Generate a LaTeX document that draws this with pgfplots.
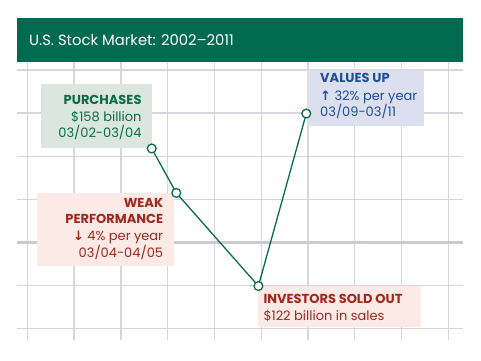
\documentclass[border=0pt]{standalone}
\usepackage{fontspec}
\setmainfont{Poppins}
\newfontfamily\sym{DejaVu Sans}
\usepackage{pgfplots}
\pgfplotsset{compat=1.18}
\definecolor{titlegreen}{HTML}{006B4F}
\definecolor{gridgray}{HTML}{D6D6DC}
\definecolor{gridthick}{HTML}{CBCBD0}
\definecolor{boxgreen}{HTML}{DCE6E1}
\definecolor{boxpink}{HTML}{FCEAE6}
\definecolor{boxblue}{HTML}{DCE0EE}
\definecolor{txtgreen}{HTML}{0B6B4A}
\definecolor{txtred}{HTML}{A3281F}
\definecolor{txtblue}{HTML}{1D4F9B}
\definecolor{linegreen}{HTML}{0A6E4C}
\begin{document}
\begin{tikzpicture}
\fill[white] (0pt,0pt) rectangle (481pt,360pt);
\path[use as bounding box] (0pt,0pt) rectangle (481pt,360pt);
% grid axis
\begin{axis}[at={(17pt,20pt)}, anchor=south west, width=446pt, height=278pt, scale only axis,
  xmin=-0.22, xmax=9.314, ymin=-0.262, ymax=6.186,
  axis line style={draw=none}, tick style={draw=none},
  xtick={0,1,2,3,4,5,6,7,8,9}, ytick={0,1,3,4,5,6},
  xticklabels={}, yticklabels={},
  grid=major, grid style={line width=1.3pt, color=gridgray},
  extra y ticks={2}, extra y tick labels={},
  extra y tick style={grid style={line width=2.6pt, color=gridthick}}]
\addplot[draw=none] coordinates {(0,0)};
\end{axis}
% title bar
\fill[titlegreen] (17pt,298pt) rectangle (463pt,342pt);
\node[anchor=base west, inner sep=0pt, text=white, font=\fontsize{14.8}{17}\selectfont] at (29pt,314.3pt) {U.S. Stock Market: 2002–2011};
% boxes
\fill[boxgreen] (41.3pt,211.7pt) rectangle (151.7pt,276pt);
\fill[boxpink] (36.7pt,94pt) rectangle (174pt,166.7pt);
\fill[boxpink] (257.7pt,32.7pt) rectangle (421pt,74.3pt);
\fill[boxblue] (307.3pt,234pt) rectangle (424pt,290pt);
\begin{scope}[every node/.style={inner sep=0pt, font=\fontsize{13}{15}\selectfont}]
\node[anchor=base east, text=txtgreen] at (141.7pt,255.7pt) {\bfseries PURCHASES};
\node[anchor=base east, text=txtgreen] at (141.7pt,238.3pt) {\$158 billion};
\node[anchor=base east, text=txtgreen] at (141.7pt,222.3pt) {03/02-03/04};
\node[anchor=base east, text=txtred] at (163.3pt,153pt) {\bfseries WEAK};
\node[anchor=base east, text=txtred] at (163.3pt,136.3pt) {\bfseries PERFORMANCE};
\node[anchor=base east, text=txtred] at (163.3pt,119.7pt) {{\sym\bfseries ↓} 4\% per year};
\node[anchor=base east, text=txtred] at (163.3pt,102.3pt) {03/04-04/05};
\node[anchor=base west, text=txtred] at (263.3pt,56.3pt) {\bfseries INVESTORS SOLD OUT};
\node[anchor=base west, text=txtred] at (263.3pt,39.7pt) {\$122 billion in sales};
\node[anchor=base west, text=txtblue] at (320pt,277.3pt) {\bfseries VALUES UP};
\node[anchor=base west, text=txtblue] at (320pt,260pt) {{\sym\bfseries ↑} 32\% per year};
\node[anchor=base west, text=txtblue] at (320pt,243.3pt) {03/09-03/11};
\end{scope}
% data axis
\begin{axis}[at={(17pt,20pt)}, anchor=south west, width=446pt, height=278pt, scale only axis,
  xmin=-0.22, xmax=9.314, ymin=-0.262, ymax=6.186, hide axis, clip=false]
\addplot[color=linegreen, line width=1.3pt, mark=*, mark size=4.4pt,
  mark options={fill=white, draw=linegreen, line width=1.3pt}]
  coordinates {(2.66,4.18) (3.185,3.15) (4.94,0.99) (5.964,4.99)};
\end{axis}
\end{tikzpicture}
\end{document}
